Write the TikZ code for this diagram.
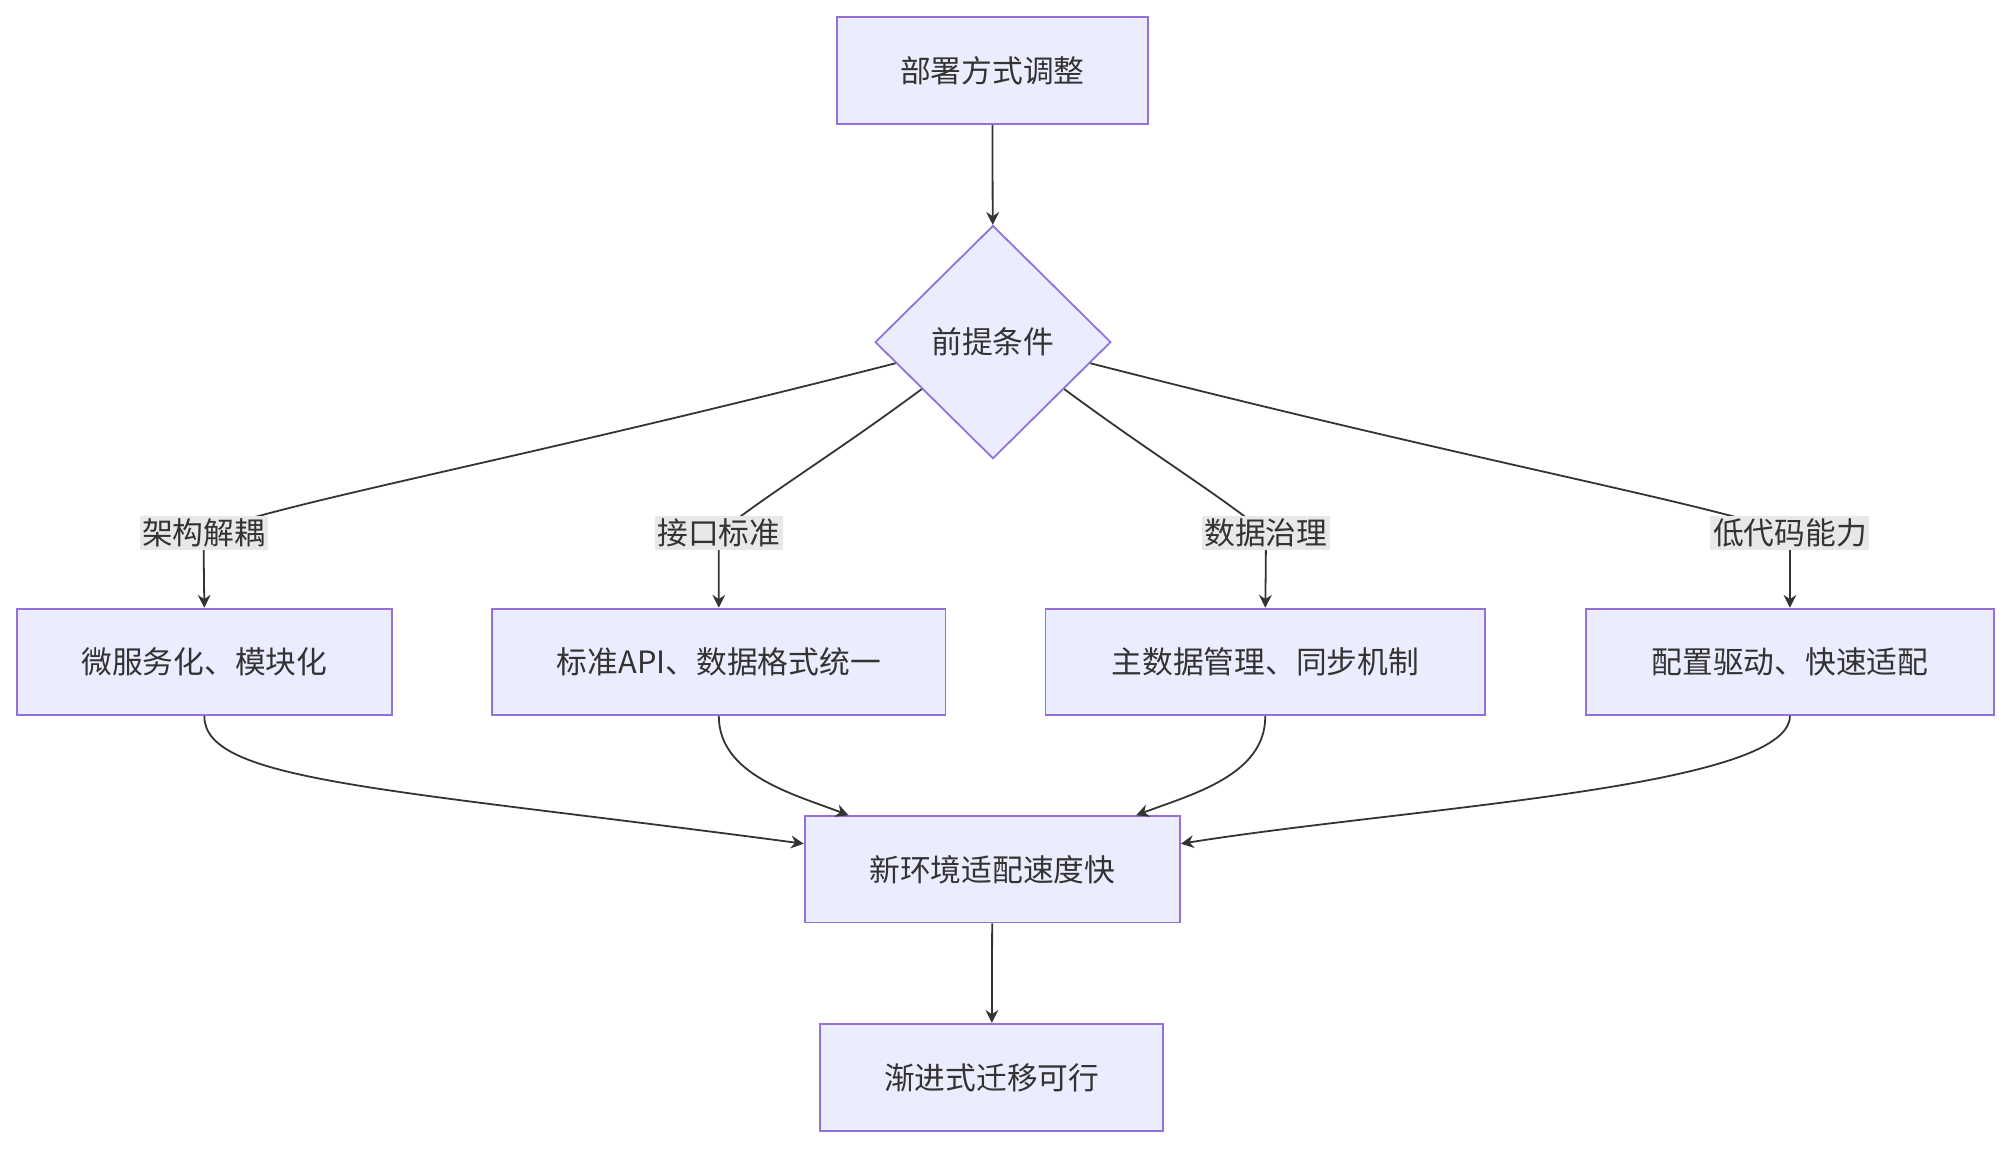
\documentclass[tikz,border=0pt]{standalone}
\usepackage{fontspec}
\setmainfont{Noto Sans CJK SC}
\usetikzlibrary{shapes.geometric,arrows.meta,calc}
\definecolor{nfill}{HTML}{ECECFF}
\definecolor{nline}{HTML}{9370DB}
\definecolor{eline}{HTML}{333333}
\definecolor{lbg}{HTML}{E8E8E8}
\tikzset{
  box/.style={draw=nline,fill=nfill,line width=0.7pt,inner sep=0pt,text=eline,font=\fontsize{12}{14}\selectfont},
  dia/.style={box,diamond,minimum width=92pt,minimum height=91pt},
  lbl/.style={fill=lbg,inner sep=1pt,text=eline,font=\fontsize{12}{14}\selectfont},
  conn/.style={draw=eline,line width=0.7pt,-{Stealth[length=5pt,width=5pt]}},
}
\begin{document}
\begin{tikzpicture}[x=0.5pt,y=-0.5pt]
\useasboundingbox (0,0) rectangle (1568,896);
\node[box,minimum width=121.5pt,minimum height=42pt] (top) at (774.5,55) {部署方式调整};
\node[dia] (d) at (775,267) {前提条件};
\node[box,minimum width=146.5pt,minimum height=41.5pt] (a) at (159.5,516.5) {微服务化、模块化};
\node[box,minimum width=177pt,minimum height=41.5pt] (b) at (561,516.5) {标准API、数据格式统一};
\node[box,minimum width=171.5pt,minimum height=41.5pt] (c) at (987.5,516.5) {主数据管理、同步机制};
\node[box,minimum width=159pt,minimum height=41.5pt] (e) at (1397,516.5) {配置驱动、快速适配};
\node[box,minimum width=146.5pt,minimum height=41.5pt] (f) at (774.5,678.5) {新环境适配速度快};
\node[box,minimum width=134pt,minimum height=42pt] (g) at (774,841) {渐进式迁移可行};
\coordinate (la) at (159,416);
\coordinate (lb) at (561,416);
\coordinate (lc) at (988,416);
\coordinate (le) at (1397,416);
\coordinate (sa) at ($(d.west)!0.18!(d.south)$);
\coordinate (sb) at ($(d.west)!0.4!(d.south)$);
\coordinate (sc) at ($(d.east)!0.4!(d.south)$);
\coordinate (se) at ($(d.east)!0.18!(d.south)$);
\draw[conn] (top) -- (d);
\draw[conn] (sa) .. controls (400,360) and (230,390) .. (la) .. controls (159,430) and (159,440) .. (a.north);
\draw[conn] (sb) .. controls (650,355) and (600,385) .. (lb) .. controls (561,430) and (561,440) .. (b.north);
\draw[conn] (sc) .. controls (900,355) and (950,385) .. (lc) .. controls (988,430) and (988,440) .. (c.north);
\draw[conn] (se) .. controls (1150,360) and (1320,390) .. (le) .. controls (1397,430) and (1397,440) .. (e.north);
\node[lbl] at (la) {架构解耦};
\node[lbl] at (lb) {接口标准};
\node[lbl] at (lc) {数据治理};
\node[lbl] at (le) {低代码能力};
\draw[conn] (a.south) .. controls (159,610) and (300,615) .. ($(f.west)+(0,-20)$);
\draw[conn] (b.south) .. controls (561,605) and (620,620) .. ($(f.north west)+(35,0)$);
\draw[conn] (c.south) .. controls (988,605) and (930,620) .. ($(f.north east)+(-35,0)$);
\draw[conn] (e.south) .. controls (1397,615) and (1100,630) .. ($(f.east)+(0,-20)$);
\draw[conn] (f) -- (g);
\end{tikzpicture}
\end{document}
